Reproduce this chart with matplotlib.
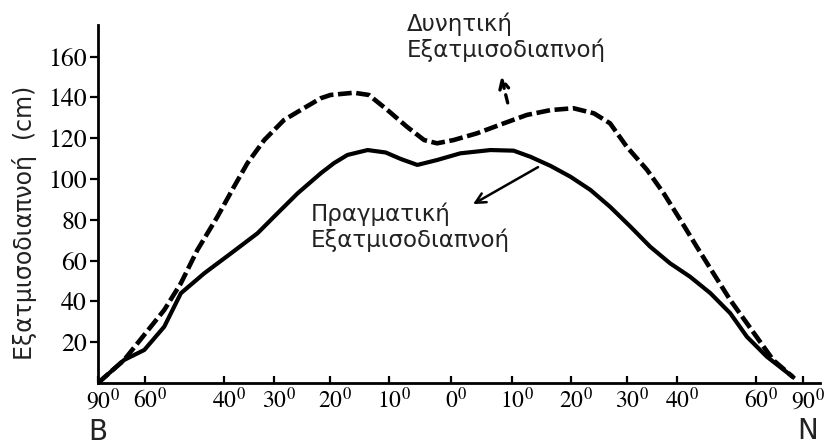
import numpy as np
import matplotlib
matplotlib.use("Agg")
import matplotlib.pyplot as plt
import matplotlib.transforms as mtransforms

plt.rcParams["mathtext.fontset"] = "stix"

# ================================================================
# DATA  (latitude: + north, - south ; values in cm)
# ================================================================

actual_lat = [90, 67.8, 60.3, 54.3, 49.9, 44.3, 38.5, 33.2, 29.4, 25.7,
              21.6, 19.3, 17.0, 13.6, 10.6, 8.1, 5.4, 2.2, -1.6, -6.5,
              -10.3, -13.1, -16.5, -19.9, -23.4, -26.9, -30.7, -34.5, -38.5,
              -42.8, -47.5, -52.5, -57.2, -63.8, -76.3]
actual_val = [0, 11.3, 16.2, 27.6, 44.0, 53.8, 63.6, 73.4, 83.2, 93.0,
              102.8, 107.8, 111.8, 114.2, 113.0, 109.8, 106.9, 109.3, 112.6, 114.2,
              113.9, 110.9, 106.4, 101.1, 94.6, 86.4, 76.6, 66.8, 58.7,
              52.1, 44.0, 34.2, 22.7, 12.9, 2.9]

potential_lat = [90, 67.8, 62.6, 54.3, 49.9, 45.9, 41.4, 37.9, 35.2, 31.9,
                 28.2, 24.6, 21.6, 19.9, 15.9, 13.4, 10.3, 7.1, 4.3, 2.2,
                 -0.5, -4.3, -8.7, -12.5, -16.5, -20.4, -24.0, -26.9, -30.0,
                 -33.9, -37.2, -40.7, -44.3, -48.2, -52.5, -57.2, -66.2, -76.3]
potential_val = [0, 11.3, 19.5, 35.8, 48.9, 65.2, 81.5, 96.2, 107.7, 119.1,
                 128.9, 134.7, 139.6, 141.2, 142.3, 141.2, 133.8, 125.6, 119.1, 117.5,
                 119.1, 122.4, 127.3, 131.4, 133.8, 134.7, 132.2, 127.3, 115.8,
                 104.4, 93.0, 79.9, 66.8, 53.8, 40.7, 29.3, 11.3, 2.9]

tick_lat    = [90, 60, 40, 30, 20, 10, 0, -10, -20, -30, -40, -60, -90]
tick_labels = [f"${abs(t)}^0$" for t in tick_lat]
y_ticks     = [20, 40, 60, 80, 100, 120, 140, 160]


def to_x(lat):
    # equal-area latitude axis (sine of latitude), north on the left
    return -np.sin(np.radians(np.asarray(lat, dtype=float)))


# ================================================================
# FIGURE
# ================================================================

W, H = 833, 446
fig = plt.figure(figsize=(W / 100, H / 100), dpi=100)
ax = fig.add_axes([98 / W, 1 - 383 / H, (820 - 98) / W, (383 - 25) / H])

ax.plot(to_x(potential_lat), potential_val, color="black", lw=3.3,
        linestyle=(0, (3.0, 1.0)), solid_joinstyle="round", zorder=3)
ax.plot(to_x(actual_lat), actual_val, color="black", lw=3.0,
        solid_joinstyle="round", zorder=4)

ax.set_xlim(-1.0, 1.048)
ax.set_ylim(0, 175.5)

for side in ["top", "right"]:
    ax.spines[side].set_visible(False)
for side in ["left", "bottom"]:
    ax.spines[side].set_linewidth(2.0)

ax.set_xticks(to_x(tick_lat))
ax.set_xticklabels(tick_labels, fontsize=17)
ax.tick_params(axis="x", direction="in", length=5, width=1.6, pad=3)
offset = mtransforms.ScaledTranslation(5 / 100, 0, fig.dpi_scale_trans)
for lbl in ax.get_xticklabels():
    lbl.set_transform(lbl.get_transform() + offset)

ax.set_yticks(y_ticks)
ax.set_yticklabels([str(v) for v in y_ticks], fontsize=18.5,
                   family="STIXGeneral")
ax.tick_params(axis="y", direction="out", length=6, width=1.6, pad=2)

ax.set_ylabel("Εξατμισοδιαπνοή  (cm)", fontsize=17,
              family="DejaVu Sans", color="#222222")
ax.yaxis.set_label_coords(-0.085, 0.447)

# hemisphere letters
fig.text(98 / W, 1 - 432 / H, "B", fontsize=20, family="DejaVu Sans",
         ha="center", va="center", color="#222222")
fig.text(808 / W, 1 - 431 / H, "N", fontsize=20, family="DejaVu Sans",
         ha="center", va="center", color="#222222")

# curve labels
fig.text(407 / W, 1 - 13 / H, "Δυνητική\nΕξατμισοδιαπνοή", fontsize=16.5,
         family="DejaVu Sans", ha="left", va="top", color="#222222",
         linespacing=1.1)
fig.text(311 / W, 1 - 203 / H, "Πραγματική\nΕξατμισοδιαπνοή", fontsize=16.5,
         family="DejaVu Sans", ha="left", va="top", color="#222222",
         linespacing=1.1)

# arrows
ax.annotate("", xy=(0.142, 151.5), xytext=(0.164, 136),
            annotation_clip=False,
            arrowprops=dict(arrowstyle="->", lw=2.4, color="black",
                            linestyle=(0, (2.5, 2.0)), mutation_scale=16))
ax.annotate("", xy=(0.057, 87), xytext=(0.255, 106.5),
            annotation_clip=False,
            arrowprops=dict(arrowstyle="->", lw=1.8, color="black",
                            mutation_scale=18))

plt.savefig("out.png", dpi=100)
